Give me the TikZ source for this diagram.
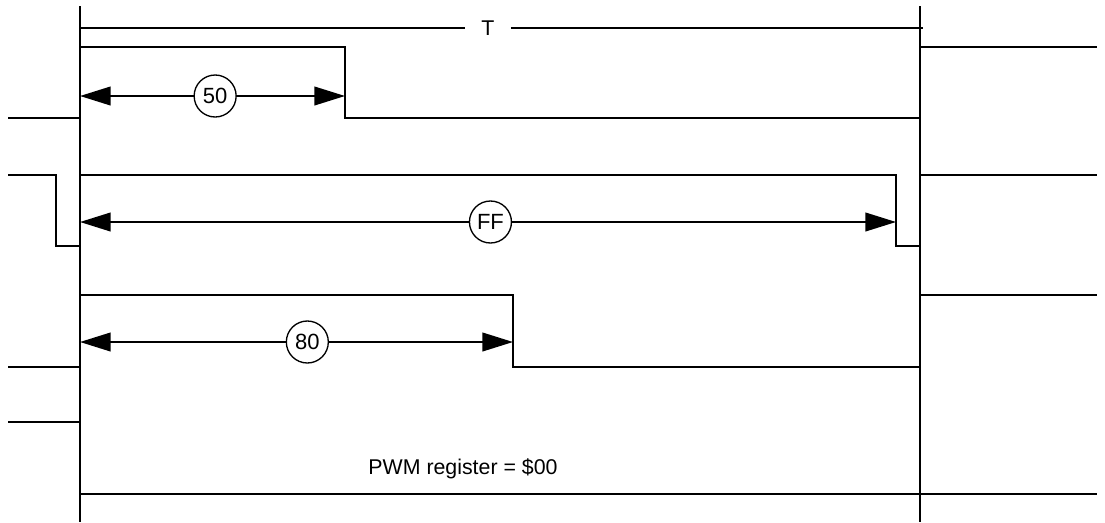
\documentclass[tikz,border=0pt]{standalone}
\usepackage{fontspec}
\setmainfont{Liberation Sans}
\usetikzlibrary{arrows.meta}
\tikzset{
  wave/.style={line width=1.5pt},
  marker/.style={line width=1pt},
  dim/.style={line width=1.5pt,
    {Triangle[length=23pt,width=14pt]}-{Triangle[length=23pt,width=14pt]}},
  val/.style={circle, draw, line width=1pt, fill=white, minimum size=31.5pt,
    inner sep=0pt, font=\fontsize{16.5}{19}\selectfont},
  label/.style={font=\fontsize{16}{19}\selectfont},
}
\begin{document}
\begin{tikzpicture}[x=0.75pt, y=-0.75pt]
  \useasboundingbox (0,0) rectangle (1105,522);
  \coordinate (ltop) at (80,6);
  \coordinate (lbot) at (80,522);
  \coordinate (rtop) at (920,6);
  \coordinate (rbot) at (920,522);
  \draw[marker] (ltop) -- (lbot);
  \draw[marker] (rtop) -- (rbot);

  \coordinate (tl) at (80,28);
  \coordinate (tr) at (923,28);
  \node[label, fill=white, inner xsep=12pt] (T) at (488,28) {T};
  \draw[wave] (tl) -- (T) (T) -- (tr);

  % duty 50
  \draw[wave] (8,118) -- (80,118) -- (80,47) -- (345,47) -- (345,118)
    -- (920,118) -- (920,47) -- (1097,47);
  \coordinate (a50) at (80,96);
  \coordinate (b50) at (345,96);
  \draw[dim] (a50) -- node[val, pos=0.51] (v50) {50} (b50);

  % duty FF
  \draw[wave] (8,175) -- (56,175) -- (56,246) -- (80,246) -- (80,175)
    -- (896,175) -- (896,246) -- (920,246) -- (920,175) -- (1097,175);
  \coordinate (aFF) at (80,222);
  \coordinate (bFF) at (896,222);
  \draw[dim] (aFF) -- node[val, pos=0.503] (vFF) {FF} (bFF);

  % duty 80
  \draw[wave] (8,367) -- (80,367) -- (80,295) -- (513,295) -- (513,367)
    -- (920,367) -- (920,295) -- (1097,295);
  \coordinate (a80) at (80,342);
  \coordinate (b80) at (513,342);
  \draw[dim] (a80) -- node[val, pos=0.525] (v80) {80} (b80);

  % duty 00
  \draw[wave] (8,422) -- (80,422) -- (80,494) -- (1097,494);
  \node[label] (reg) at (463,469) {PWM register = \$00};
\end{tikzpicture}
\end{document}
